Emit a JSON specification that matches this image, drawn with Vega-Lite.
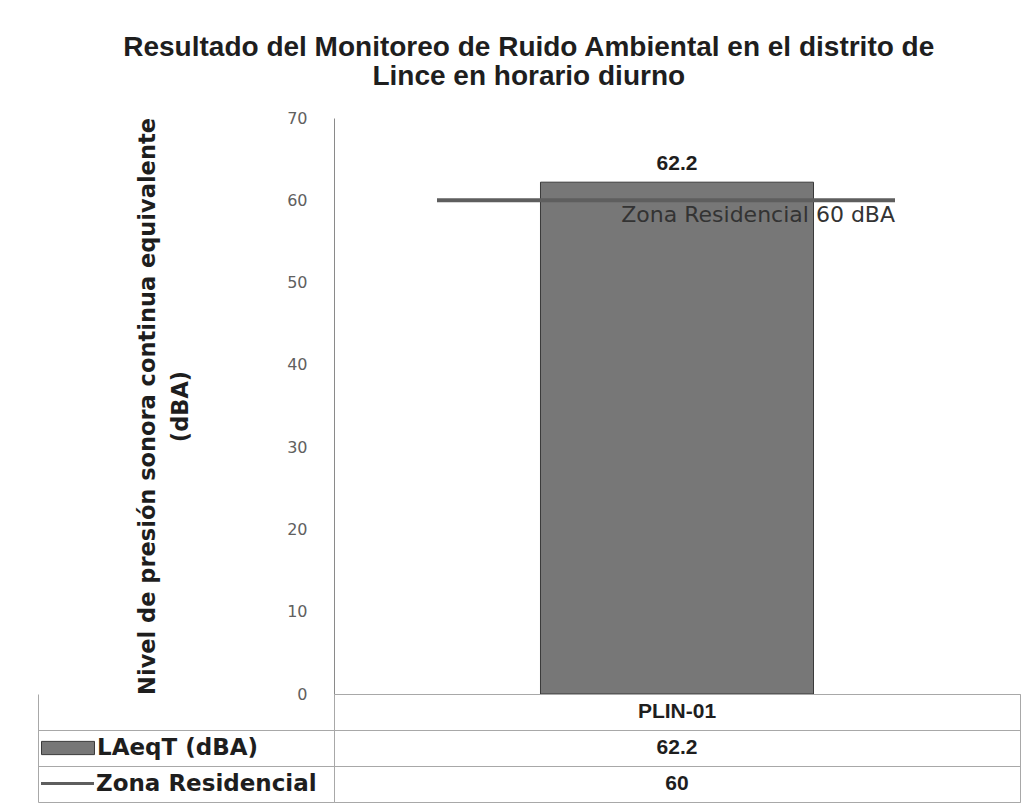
{
  "$schema": "https://vega.github.io/schema/vega-lite/v6.json",
  "background": "white",
  "padding": {"left": 37, "top": 34, "right": 8, "bottom": 4},
  "title": {
    "text": ["Resultado del Monitoreo de Ruido Ambiental  en el distrito de", "Lince en horario diurno"],
    "font": "Liberation Sans", "fontSize": 28, "fontWeight": "bold", "color": "#1e1e1e",
    "anchor": "middle", "lineHeight": 29, "offset": 19
  },
  "datasets": {
    "mon": [
      {"estacion": "PLIN-01", "serie": "LAeqT (dBA)", "valor": 62.2, "etiqueta": ""},
      {"estacion": "PLIN-01", "serie": "Zona Residencial", "valor": 60, "etiqueta": "Zona Residencial 60 dBA"}
    ]
  },
  "data": {"name": "mon"},
  "spacing": 0,
  "bounds": "flush",
  "vconcat": [
    {
      "width": 686,
      "height": 576,
      "view": {"stroke": null},
      "encoding": {
        "x": {"field": "estacion", "type": "nominal", "axis": null, "scale": {"paddingInner": 0, "paddingOuter": 0}}
      },
      "layer": [
        {
          "transform": [{"filter": "datum.serie === 'LAeqT (dBA)'"}],
          "mark": {"type": "bar", "width": {"band": 0.398}, "stroke": "#3a3a3a", "strokeWidth": 1},
          "encoding": {
            "y": {
              "field": "valor", "type": "quantitative",
              "scale": {"domain": [0, 70]},
              "axis": {
                "values": [0, 10, 20, 30, 40, 50, 60, 70],
                "grid": false, "ticks": false, "domainColor": "#8a8a8a",
                "labelFont": "DejaVu Sans", "labelFontSize": 16, "labelColor": "#606060",
                "labelPadding": 27, "labelFlush": false,
                "title": ["Nivel de presión sonora continua equivalente", "(dBA)"],
                "titleFont": "DejaVu Sans", "titleFontSize": 22.5, "titleFontWeight": "bold",
                "titleColor": "#1e1e1e", "titlePadding": 94, "titleLineHeight": 33
              }
            },
            "fill": {
              "field": "serie", "type": "nominal",
              "scale": {"domain": ["LAeqT (dBA)"], "range": ["#777777"]},
              "legend": {
                "orient": "none", "legendX": -280, "legendY": 616,
                "title": null, "symbolSize": 702, "symbolType": "M-2,-0.5H2V0.5H-2Z",
                "symbolStrokeColor": "#3a3a3a", "symbolStrokeWidth": 1,
                "labelOffset": 15, "padding": 0,
                "labelFont": "DejaVu Sans", "labelFontSize": 23, "labelFontWeight": "bold",
                "labelColor": "#1e1e1e", "labelLimit": 0
              }
            }
          }
        },
        {
          "transform": [{"filter": "datum.serie === 'LAeqT (dBA)'"}],
          "mark": {"type": "text", "font": "Liberation Sans", "fontSize": 21, "fontWeight": "bold", "color": "#1e1e1e", "baseline": "middle", "dy": -18},
          "encoding": {
            "y": {"field": "valor", "type": "quantitative"},
            "text": {"field": "valor", "type": "quantitative"}
          }
        },
        {
          "transform": [{"filter": "datum.serie === 'Zona Residencial'"}],
          "mark": {"type": "tick", "orient": "horizontal", "size": 458, "thickness": 4, "opacity": 1, "xOffset": -11},
          "encoding": {
            "y": {"field": "valor", "type": "quantitative"},
            "color": {
              "field": "serie", "type": "nominal",
              "scale": {"domain": ["Zona Residencial"], "range": ["#5e5e5e"]},
              "legend": {
                "orient": "none", "legendX": -280, "legendY": 652,
                "title": null, "symbolSize": 702, "symbolType": "M-2,-0.12H2V0.12H-2Z",
                "symbolStrokeWidth": 0,
                "labelOffset": 15, "padding": 0,
                "labelFont": "DejaVu Sans", "labelFontSize": 23, "labelFontWeight": "bold",
                "labelColor": "#1e1e1e", "labelLimit": 0
              }
            }
          }
        },
        {
          "transform": [{"filter": "datum.serie === 'Zona Residencial'"}],
          "mark": {"type": "text", "font": "DejaVu Sans", "fontSize": 22, "color": "#333333", "align": "right", "baseline": "middle", "dx": 218, "dy": 15},
          "encoding": {
            "y": {"field": "valor", "type": "quantitative"},
            "text": {"field": "etiqueta", "type": "nominal"}
          }
        }
      ]
    },
    {
      "width": 686,
      "height": 108,
      "view": {"stroke": "#a8a8a8"},
      "encoding": {
        "x": {"field": "estacion", "type": "nominal", "axis": null, "scale": {"paddingInner": 0, "paddingOuter": 0}}
      },
      "layer": [
        {
          "transform": [{"filter": "datum.serie === 'LAeqT (dBA)'"}],
          "mark": {"type": "text", "font": "Liberation Sans", "fontSize": 21, "fontWeight": "bold", "color": "#1e1e1e", "baseline": "middle"},
          "encoding": {
            "y": {
              "datum": "Estación", "type": "nominal",
              "scale": {"type": "band", "domain": ["Estación", "LAeqT (dBA)", "Zona Residencial"], "paddingInner": 0, "paddingOuter": 0},
              "axis": {
                "offset": 296,
                "labels": false, "ticks": true, "tickSize": -296, "tickBand": "extent",
                "tickColor": {"condition": {"test": "datum.index < 0 || datum.extra != null", "value": "transparent"}, "value": "#a8a8a8"},
                "grid": true, "gridColor": "#a8a8a8", "gridOpacity": 1,
                "domain": true, "domainColor": "#a8a8a8", "title": null
              }
            },
            "text": {"field": "estacion", "type": "nominal"}
          }
        },
        {
          "mark": {"type": "text", "font": "Liberation Sans", "fontSize": 21, "fontWeight": "bold", "color": "#1e1e1e", "baseline": "middle"},
          "encoding": {
            "y": {"field": "serie", "type": "nominal"},
            "text": {"field": "valor", "type": "quantitative"}
          }
        }
      ]
    }
  ]
}
